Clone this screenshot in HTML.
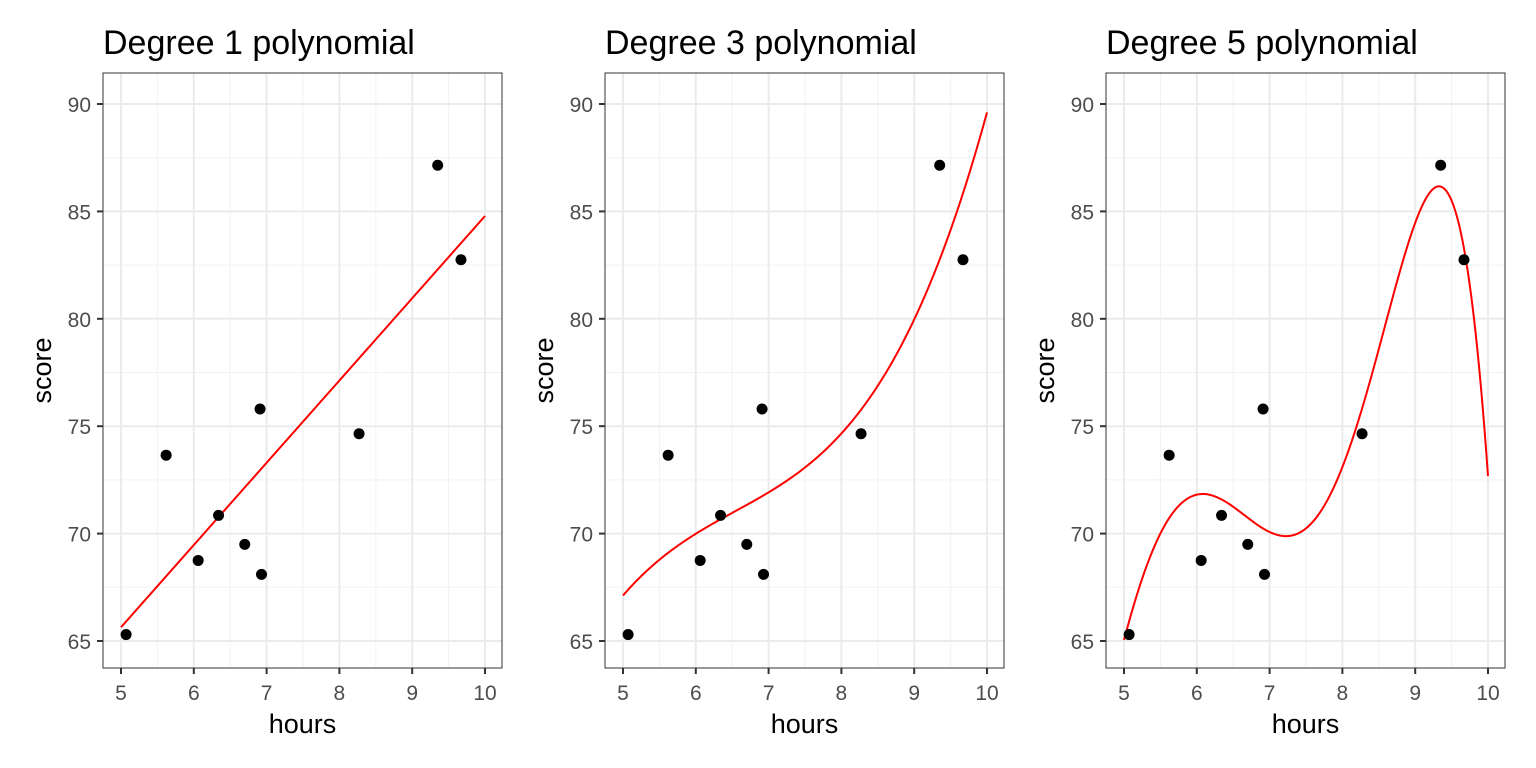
<!DOCTYPE html>
<html><head><meta charset="utf-8"><style>
html,body{margin:0;padding:0;background:#fff;}
svg{display:block;font-family:"Liberation Sans",Arial,sans-serif;}
</style></head><body>
<svg id="chart" width="1536" height="768" viewBox="0 0 1536 768"></svg>
<script>
const hours = [5.07, 5.62, 6.06, 6.34, 6.70, 6.91, 6.93, 8.27, 9.35, 9.67];
const scores = [65.3, 73.65, 68.75, 70.85, 69.5, 75.8, 68.1, 74.65, 87.15, 82.75];
const degrees = [1, 3, 5];
const xTicks = [5, 6, 7, 8, 9, 10];
const yTicks = [65, 70, 75, 80, 85, 90];
const panelLefts = [103, 605, 1106];
const NS = "http://www.w3.org/2000/svg";
const svg = document.getElementById("chart");
function mk(tag, attrs, parent) {
  const e = document.createElementNS(NS, tag);
  for (const k in attrs) e.setAttribute(k, attrs[k]);
  (parent || svg).appendChild(e);
  return e;
}
function fit(deg) {
  const n = deg + 1, A = [], b = [];
  for (let i = 0; i < n; i++) { A.push(new Array(n).fill(0)); b.push(0); }
  for (let k = 0; k < hours.length; k++) {
    const t = hours[k] - 7.5;
    for (let i = 0; i < n; i++) {
      b[i] += Math.pow(t, i) * scores[k];
      for (let j = 0; j < n; j++) A[i][j] += Math.pow(t, i + j);
    }
  }
  for (let c = 0; c < n; c++) {
    let p = c; for (let r = c + 1; r < n; r++) if (Math.abs(A[r][c]) > Math.abs(A[p][c])) p = r;
    [A[c], A[p]] = [A[p], A[c]]; [b[c], b[p]] = [b[p], b[c]];
    for (let r = 0; r < n; r++) if (r !== c) {
      const f = A[r][c] / A[c][c];
      for (let j = c; j < n; j++) A[r][j] -= f * A[c][j];
      b[r] -= f * b[c];
    }
  }
  const coef = b.map((v, i) => v / A[i][i]);
  return x => coef.reduce((s, c, i) => s + c * Math.pow(x - 7.5, i), 0);
}
const plotTop = 73, plotBottom = 668, plotWidth = 399;
degrees.forEach((deg, pi) => {
  const L = panelLefts[pi];
  const g = mk("g", {});
  
  
  const xs = v => L + 18 + (v - 5) * 72.8;
  const ys = v => 641 - (v - 65) * 21.48;
  for (let v = 4.5; v <= 10.5; v += 1) if (xs(v) > L && xs(v) < L + plotWidth) mk("line", {x1: xs(v), x2: xs(v), y1: plotTop, y2: plotBottom, stroke: "#f2f2f2", "stroke-width": 1}, g);
  for (let v = 62.5; v <= 92.5; v += 5) if (ys(v) > plotTop && ys(v) < plotBottom) mk("line", {x1: L, x2: L + plotWidth, y1: ys(v), y2: ys(v), stroke: "#f2f2f2", "stroke-width": 1}, g);
  xTicks.forEach(v => {
    mk("line", {x1: xs(v), x2: xs(v), y1: plotTop, y2: plotBottom, stroke: "#ebebeb", "stroke-width": 2}, g);
    mk("line", {x1: xs(v), x2: xs(v), y1: plotBottom, y2: plotBottom + 6, stroke: "#333", "stroke-width": 2}, g);
    const t = mk("text", {x: xs(v), y: 700, "text-anchor": "middle", "font-size": 21, fill: "#4d4d4d"}, g);
    t.textContent = v;
    
    
  });
  yTicks.forEach(v => {
    mk("line", {x1: L, x2: L + plotWidth, y1: ys(v), y2: ys(v), stroke: "#ebebeb", "stroke-width": 2}, g);
    mk("line", {x1: L - 6, x2: L, y1: ys(v), y2: ys(v), stroke: "#333", "stroke-width": 2}, g);
    const t = mk("text", {x: L - 12, y: ys(v) + 8, "text-anchor": "end", "font-size": 21, fill: "#4d4d4d"}, g);
    t.textContent = v;
    
    
  });
  const f = fit(deg);
  let d = "";
  for (let i = 0; i <= 200; i++) {
    const x = 5 + 5 * i / 200;
    d += (i ? "L" : "M") + xs(x).toFixed(2) + "," + ys(f(x)).toFixed(2);
  }
  const path = mk("path", {d: d, fill: "none", stroke: "#ff0000", "stroke-width": 2}, g);
  
  
  hours.forEach((h, k) => {
    const c = mk("circle", {cx: xs(h), cy: ys(scores[k]), r: 5.5, fill: "#000"}, g);
    
    
  });
  mk("rect", {x: L, y: plotTop, width: plotWidth, height: plotBottom - plotTop, fill: "none", stroke: "#333", "stroke-width": 1}, g);
  const title = mk("text", {x: L, y: 54, "font-size": 34, fill: "#000"}, g);
  title.textContent = "Degree " + deg + " polynomial";
  
  
  const xt = mk("text", {x: L + plotWidth / 2, y: 733, "text-anchor": "middle", "font-size": 27, fill: "#000"}, g);
  xt.textContent = "hours";
  
  
  const yt = mk("text", {x: 0, y: 0, "text-anchor": "middle", "font-size": 27, fill: "#000", transform: "translate(" + (L - 52) + "," + ((plotTop + plotBottom) / 2) + ") rotate(-90)"}, g);
  yt.textContent = "score";
  
  
});
</script>
</body></html>
